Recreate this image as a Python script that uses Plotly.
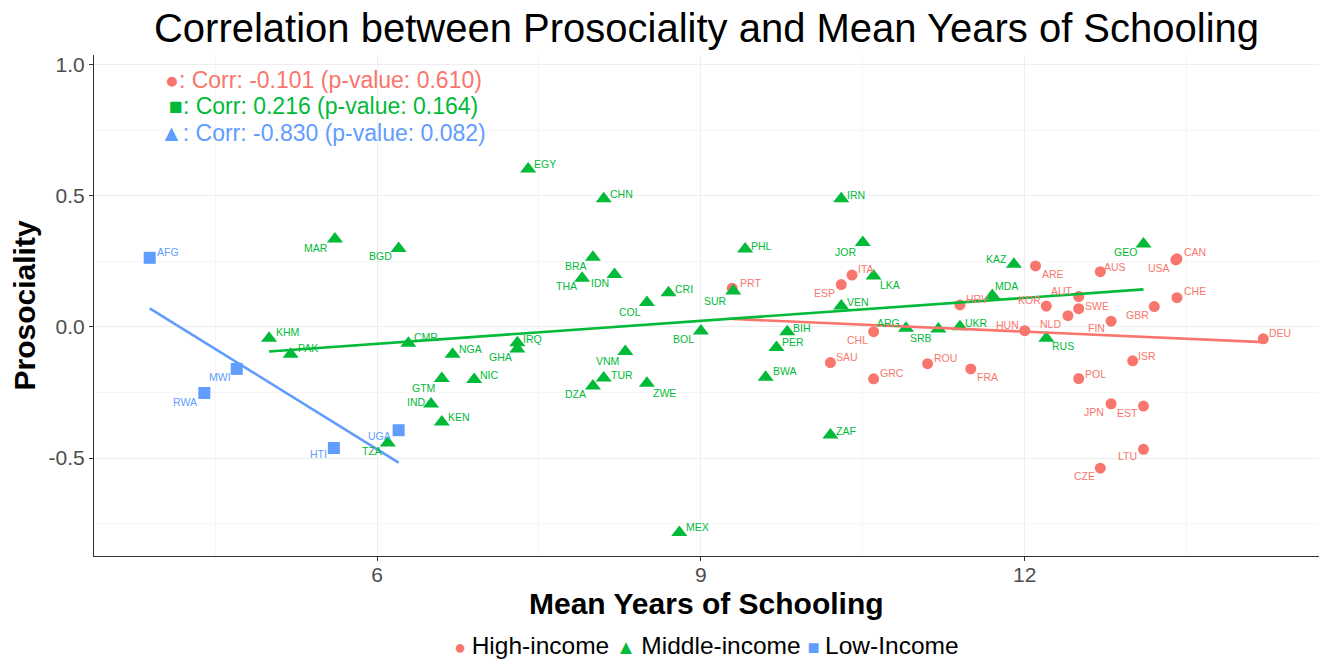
import numpy as np
import plotly.graph_objects as go

# ---- data: mean years of schooling (x) vs prosociality (y) by income group ----
high_iso = ["PRT", "ESP", "ITA", "CHL", "SAU", "GRC", "ROU", "FRA", "HRV", "HUN",
            "ARE", "AUS", "CAN", "USA", "CHE", "GBR", "KOR", "AUT", "SWE", "NLD",
            "FIN", "DEU", "ISR", "POL", "JPN", "EST", "LTU", "CZE"]
high_x = [9.29, 10.30, 10.40, 10.60, 10.20, 10.60, 11.10, 11.50, 11.40, 12.00,
          12.10, 12.70, 13.41, 13.40, 13.41, 13.20, 12.20, 12.50, 12.50, 12.40,
          12.80, 14.21, 13.00, 12.50, 12.80, 13.10, 13.10, 12.70]
high_y = [0.148, 0.162, 0.198, -0.018, -0.136, -0.198, -0.140, -0.160, 0.084, -0.014,
          0.233, 0.211, 0.260, 0.256, 0.112, 0.078, 0.080, 0.116, 0.070, 0.043,
          0.022, -0.045, -0.129, -0.197, -0.293, -0.302, -0.467, -0.539]

mid_iso = ["KHM", "PAK", "MAR", "BGD", "CMR", "TZA", "GTM", "IND", "KEN", "NGA",
           "NIC", "IRQ", "GHA", "EGY", "CHN", "BRA", "THA", "IDN", "COL", "CRI",
           "VNM", "DZA", "TUR", "ZWE", "BOL", "MEX", "PHL", "SUR", "BWA", "PER",
           "BIH", "IRN", "JOR", "LKA", "VEN", "ZAF", "ARG", "SRB", "UKR", "MDA",
           "KAZ", "RUS", "GEO"]
mid_x = [5.00, 5.20, 5.61, 6.20, 6.29, 6.10, 6.60, 6.50, 6.60, 6.70,
         6.90, 7.30, 7.30, 7.40, 8.10, 8.00, 7.90, 8.20, 8.50, 8.70,
         8.30, 8.00, 8.10, 8.50, 9.00, 8.80, 9.41, 9.30, 9.60, 9.70,
         9.80, 10.30, 10.50, 10.60, 10.30, 10.20, 10.90, 11.20, 11.40, 11.70,
         11.90, 12.20, 13.10]
mid_y = [-0.043, -0.104, 0.336, 0.300, -0.062, -0.443, -0.197, -0.294, -0.363, -0.104,
         -0.200, -0.060, -0.084, 0.603, 0.489, 0.266, 0.186, 0.200, 0.093, 0.131,
         -0.094, -0.225, -0.195, -0.215, -0.015, -0.784, 0.298, 0.137, -0.192, -0.078,
         -0.018, 0.489, 0.322, 0.195, 0.080, -0.412, -0.005, -0.008, 0.001, 0.120,
         0.239, -0.043, 0.317]

low_iso = ["AFG", "RWA", "MWI", "HTI", "UGA"]
low_x = [3.894, 4.40, 4.70, 5.60, 6.20]
low_y = [0.264, -0.252, -0.160, -0.462, -0.394]

group_names = ["High-income", "Middle-income", "Low-Income"]
corr_values = [-0.101, 0.216, -0.830]
p_values = [0.610, 0.164, 0.082]
corr_glyphs = ["\u25CF", "\u25A0", "\u25B2"]

x_tick_vals = [6, 9, 12]
x_tick_text = ["6", "9", "12"]
y_tick_vals = [-0.5, 0.0, 0.5, 1.0]
y_tick_text = ["-0.5", "0.0", "0.5", "1.0"]

# ---- styling ----
COLORS = ["#F8766D", "#00BA38", "#619CFF"]
SYMBOLS = ["circle", "triangle-up", "square"]
MARKER_SIZES = [11, 14, 12]
FONT = "Liberation Sans, Arial, sans-serif"

# label placement (pixel offset of each country code from its point; +dy = down)
LABEL_SHIFT = {
    "AFG": (18, -6), "MWI": (-17, 8), "RWA": (-19, 9), "HTI": (-15, 6), "UGA": (-19, 6),
    "TZA": (-16, 8), "KHM": (18, -6), "PAK": (17, -6), "MAR": (-19, 9), "BGD": (-18, 8),
    "CMR": (18, -6), "EGY": (17, -5), "CHN": (18, -5), "BRA": (-17, 9), "THA": (-16, 8),
    "IDN": (-15, 8), "CRI": (15, -4), "COL": (-17, 9), "SUR": (-18, 10), "BOL": (-17, 8),
    "NGA": (18, -5), "IRQ": (15, -4), "GHA": (-17, 8), "VNM": (-18, 9), "TUR": (18, -3),
    "DZA": (-17, 8), "ZWE": (18, 10), "NIC": (15, -4), "GTM": (-18, 9), "IND": (-15, -2),
    "KEN": (17, -5), "PHL": (16, -3), "PRT": (18, -5), "IRN": (15, -4), "JOR": (-17, 9),
    "ITA": (14, -6), "ESP": (-17, 8), "LKA": (16, 9), "VEN": (17, -4), "BIH": (15, -4),
    "PER": (17, -5), "BWA": (19, -6), "CHL": (-16, 8), "ARG": (-17, -5), "SRB": (-17, 9),
    "UKR": (17, -4), "HRV": (17, -6), "MDA": (14, -10), "KAZ": (-17, -5), "HUN": (-17, -6),
    "SAU": (17, -6), "GRC": (18, -6), "ROU": (18, -6), "FRA": (17, 8), "ARE": (17, 8),
    "AUS": (15, -5), "GEO": (-18, 8), "CAN": (18, -7), "USA": (-17, 8), "CHE": (18, -7),
    "GBR": (-17, 8), "KOR": (-17, -6), "AUT": (-17, -6), "SWE": (18, -3), "NLD": (-17, 8),
    "FIN": (-15, 7), "RUS": (17, 8), "DEU": (17, -6), "ISR": (14, -5), "POL": (17, -5),
    "JPN": (-17, 8), "EST": (-16, 7), "LTU": (-16, 7), "CZE": (-16, 8), "ZAF": (16, -4),
    "MEX": (18, -5),
}

groups = [
    (high_iso, high_x, high_y),
    (mid_iso, mid_x, mid_y),
    (low_iso, low_x, low_y),
]

fig = go.Figure()
annotations = []

# scatter points
for i, (iso, xs, ys) in enumerate(groups):
    fig.add_trace(go.Scatter(
        x=xs, y=ys, mode="markers", name=group_names[i],
        text=iso, showlegend=False,
        marker=dict(color=COLORS[i], symbol=SYMBOLS[i], size=MARKER_SIZES[i],
                    line=dict(width=0)),
    ))

# linear fits per group
for i, (iso, xs, ys) in enumerate(groups):
    xa = np.array(xs)
    ya = np.array(ys)
    slope, intercept = np.polyfit(xa, ya, 1)
    xl = np.array([xa.min(), xa.max()])
    fig.add_trace(go.Scatter(
        x=xl, y=slope * xl + intercept, mode="lines", showlegend=False,
        line=dict(color=COLORS[i], width=2.6), hoverinfo="skip",
    ))

# country code labels
for i, (iso, xs, ys) in enumerate(groups):
    for code, xv, yv in zip(iso, xs, ys):
        dx, dy = LABEL_SHIFT.get(code, (16, -5))
        annotations.append(dict(
            x=xv, y=yv, xref="x", yref="y", text=code, showarrow=False,
            xshift=dx, yshift=-dy, xanchor="center", yanchor="middle",
            font=dict(family=FONT, size=10.5, color=COLORS[i]),
        ))

# correlation summary in the upper-left corner
corr_y = [0.943, 0.842, 0.740]
for i in range(3):
    annotations.append(dict(
        x=5.5, y=corr_y[i], xref="x", yref="y", showarrow=False,
        xanchor="center", yanchor="middle",
        text=f"{corr_glyphs[i]}: Corr: {corr_values[i]:.3f} (p-value: {p_values[i]:.3f})",
        font=dict(family=FONT, size=23, color=COLORS[i]),
    ))

# axis titles
annotations.append(dict(
    x=0.5, y=0, xref="paper", yref="paper", yshift=-47, showarrow=False,
    xanchor="center", yanchor="middle", text="<b>Mean Years of Schooling</b>",
    font=dict(family=FONT, size=30, color="black"),
))
annotations.append(dict(
    x=0, y=0.5, xref="paper", yref="paper", xshift=-70, showarrow=False,
    xanchor="center", yanchor="middle", textangle=-90, text="<b>Prosociality</b>",
    font=dict(family=FONT, size=30, color="black"),
))

# bottom legend
glyphs = ["\u25CF", "\u25B2", "\u25A0"]
legend_parts = []
for i in range(3):
    legend_parts.append(
        f'<span style="color:{COLORS[i]};font-size:20px">{glyphs[i]} </span>{group_names[i]}'
    )
annotations.append(dict(
    x=0.5, y=0, xref="paper", yref="paper", yshift=-89, showarrow=False,
    xanchor="center", yanchor="middle", text=" ".join(legend_parts),
    font=dict(family=FONT, size=24.5, color="black"),
))

fig.update_layout(
    width=1320, height=662,
    margin=dict(l=94, r=1, t=55, b=106),
    paper_bgcolor="white", plot_bgcolor="white",
    title=dict(
        text="Correlation between Prosociality and Mean Years of Schooling",
        x=0.5, xref="paper", xanchor="center", y=1 - 28 / 662, yanchor="middle",
        font=dict(family=FONT, size=40, color="black"),
    ),
    annotations=annotations,
    showlegend=False,
)

fig.update_xaxes(
    range=[3.378, 14.726], tickvals=x_tick_vals, ticktext=x_tick_text,
    showgrid=True, gridcolor="#eeeeee", gridwidth=1.3, zeroline=False,
    minor=dict(dtick=1.5, tick0=0, showgrid=True, gridcolor="#f6f6f6", gridwidth=1),
    showline=True, linecolor="#333333", linewidth=1.2,
    ticks="outside", ticklen=4, tickcolor="#333333",
    ticklabelstandoff=-4,
    tickfont=dict(family=FONT, size=21, color="#4d4d4d"),
)
fig.update_yaxes(
    range=[-0.874, 1.038], tickvals=y_tick_vals, ticktext=y_tick_text,
    showgrid=True, gridcolor="#eeeeee", gridwidth=1.3, zeroline=False,
    minor=dict(dtick=0.25, tick0=0, showgrid=True, gridcolor="#f6f6f6", gridwidth=1),
    showline=True, linecolor="#333333", linewidth=1.2,
    ticks="outside", ticklen=4, tickcolor="#333333",
    tickfont=dict(family=FONT, size=21, color="#4d4d4d"),
)

fig.write_html("out.html")
